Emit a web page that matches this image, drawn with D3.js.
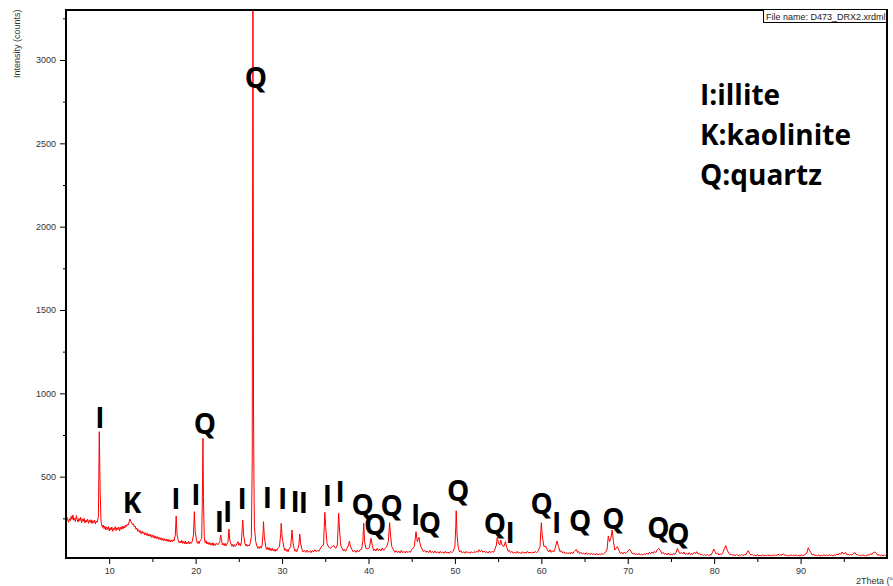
<!DOCTYPE html>
<html>
<head>
<meta charset="utf-8">
<script src="https://cdn.jsdelivr.net/npm/d3@7"></script>
<style>
  body { margin: 0; background: #fff; }
  svg { display: block; }
</style>
</head>
<body>
<div id="chart"></div>
<script>
// XRD scan: [2theta (deg), intensity (counts)]
const scan = [
  [5.0,235],[5.1,258],[5.2,240],[5.3,226],[5.4,248],[5.5,236],[5.6,262],[5.7,244],[5.8,270],[5.9,238],
  [6.0,252],[6.1,230],[6.2,266],[6.3,242],[6.4,228],[6.5,250],[6.6,236],[6.7,256],[6.8,224],[6.9,246],
  [7.0,232],[7.1,250],[7.2,222],[7.3,240],[7.4,228],[7.5,246],[7.6,220],[7.7,238],[7.8,226],[7.9,242],
  [8.0,218],[8.1,236],[8.2,224],[8.3,240],[8.4,216],[8.5,234],[8.6,226],[8.75,260],
  [8.85,770],[8.95,420],[9.05,230],[9.2,196],[9.3,210],[9.4,188],[9.5,204],[9.6,180],[9.7,198],[9.8,184],
  [9.9,200],[10.0,174],[10.1,194],[10.2,180],[10.3,198],[10.4,172],[10.5,190],[10.6,182],[10.7,200],[10.8,176],
  [10.9,194],[11.0,182],[11.1,198],[11.2,174],[11.3,196],[11.4,184],[11.5,202],[11.6,186],[11.7,204],[11.8,192],
  [11.9,210],[12.0,200],[12.1,216],[12.2,210],[12.3,228],[12.4,246],[12.5,232],[12.6,222],[12.7,212],[12.8,218],
  [12.9,198],[13.0,204],[13.1,184],[13.2,192],[13.3,172],[13.4,182],[13.5,166],[13.6,176],[13.7,158],[13.8,172],
  [13.9,160],[14.0,168],[14.1,150],[14.2,164],[14.3,148],[14.4,160],[14.5,144],[14.6,156],[14.7,142],[14.8,154],
  [14.9,136],[15.0,150],[15.1,134],[15.2,146],[15.3,130],[15.4,142],[15.5,128],[15.6,140],[15.7,124],[15.8,136],
  [15.9,122],[16.0,134],[16.1,118],[16.2,130],[16.3,116],[16.4,128],[16.5,114],[16.6,126],[16.7,112],[16.8,124],
  [16.9,110],[17.0,122],[17.1,108],[17.2,120],[17.3,110],[17.4,122],[17.5,114],[17.65,150],[17.75,264],[17.85,150],
  [18.0,116],[18.1,104],[18.2,114],[18.3,102],[18.4,118],[18.5,100],[18.6,112],[18.7,98],[18.8,114],[18.9,96],
  [19.0,108],[19.1,98],[19.2,112],[19.3,96],[19.4,106],[19.5,100],[19.6,112],[19.75,150],[19.85,290],
  [19.95,170],[20.1,120],[20.2,100],[20.3,112],[20.4,98],[20.5,114],[20.7,130],[20.8,450],[20.85,730],[20.9,380],[21.0,140],[21.1,104],[21.2,116],
  [21.3,96],[21.4,108],[21.5,94],[21.6,106],[21.7,90],[21.8,102],[21.9,88],[22.0,104],[22.1,86],[22.2,98],[22.3,88],[22.4,100],[22.6,92],[22.8,110],[22.9,150],[23.0,118],
  [23.1,90],[23.2,100],[23.3,86],[23.4,100],[23.5,84],[23.6,94],[23.75,110],[23.85,186],[23.95,120],[24.1,96],[24.2,82],[24.3,94],[24.4,80],[24.5,92],[24.6,82],[24.7,90],
  [24.9,110],[25.0,88],[25.1,100],[25.2,86],[25.3,110],[25.45,240],[25.55,150],[25.7,100],[25.8,84],[25.9,96],[26.0,82],[26.1,90],[26.2,84],[26.3,98],[26.45,140],
  [26.55,600],[26.6,2550],[26.63,3450],[26.66,2500],[26.7,900],[26.74,520],[26.8,200],[26.95,110],[27.1,84],[27.2,70],[27.3,80],[27.4,68],[27.5,82],[27.6,72],[27.7,90],
  [27.8,160],[27.85,230],[27.95,140],[28.1,84],[28.2,64],[28.3,76],[28.4,60],[28.5,74],[28.6,58],[28.7,70],[28.8,56],[28.9,70],[29.0,54],[29.1,64],[29.2,52],[29.3,66],
  [29.4,56],[29.5,68],[29.7,80],[29.85,160],[29.9,220],[30.0,140],[30.2,80],[30.3,58],[30.4,68],[30.5,52],[30.6,62],[30.7,50],[30.8,66],[31.0,80],
  [31.15,180],[31.25,110],[31.4,68],[31.5,52],[31.6,62],[31.7,50],[31.8,64],[31.95,90],[32.05,156],[32.15,100],[32.3,64],[32.45,48],[32.6,58],[32.75,46],
  [32.9,60],[33.05,46],[33.2,56],[33.35,44],[33.5,58],[33.65,48],[33.8,62],[33.95,50],[34.1,60],[34.25,52],[34.4,66],[34.6,84],[34.8,90],[34.95,286],[35.05,200],
  [35.2,100],[35.4,76],[35.6,70],[35.8,82],[36.0,86],[36.2,70],[36.4,90],[36.55,280],[36.65,180],[36.8,84],
  [37.0,66],[37.1,54],[37.2,64],[37.35,52],[37.5,70],[37.7,90],[37.8,114],[37.9,84],[38.1,62],[38.25,48],[38.4,58],[38.55,46],[38.7,60],[38.85,48],[39.0,60],
  [39.2,64],[39.35,110],[39.45,220],[39.55,110],[39.7,70],[39.9,66],[40.1,74],[40.3,130],[40.45,84],[40.6,56],[40.7,66],
  [40.85,54],[41.0,70],[41.15,56],[41.3,66],[41.45,54],[41.6,72],[41.75,58],[41.9,68],[42.1,80],[42.3,110],[42.45,224],[42.55,150],[42.7,80],[42.9,60],
  [43.05,46],[43.2,56],[43.35,44],[43.5,54],[43.65,42],[43.8,58],[43.95,44],[44.1,52],[44.25,42],[44.4,54],[44.55,44],[44.7,52],[44.85,46],[45.0,62],[45.3,80],[45.5,170],[45.65,110],
  [45.85,136],[46.0,90],[46.2,66],[46.35,50],[46.5,58],[46.65,46],[46.8,54],[46.95,44],[47.1,58],[47.25,44],[47.4,52],[47.55,42],[47.7,54],[47.85,42],[48.0,50],[48.15,40],[48.3,52],
  [48.45,42],[48.6,48],[48.75,40],[48.9,52],[49.05,42],[49.2,48],[49.35,40],[49.5,52],[49.65,44],[49.8,52],[50.0,80],[50.1,200],[50.15,296],[50.25,150],[50.4,70],
  [50.55,48],[50.7,56],[50.85,42],[51.0,50],[51.15,40],[51.3,52],[51.45,42],[51.6,48],[51.75,40],[51.9,50],[52.05,42],[52.2,50],[52.35,44],[52.5,54],[52.65,46],[52.8,62],[52.95,50],[53.1,58],[53.25,46],[53.4,54],
  [53.55,44],[53.7,50],[53.85,42],[54.0,54],[54.15,44],[54.3,52],[54.45,46],[54.6,60],[54.8,90],[54.9,136],[55.05,100],[55.2,90],[55.3,120],[55.45,90],
  [55.65,80],[55.85,110],[56.0,76],[56.15,52],[56.3,58],[56.45,44],[56.6,52],[56.75,40],[56.9,48],[57.05,40],[57.2,52],[57.35,40],[57.5,46],[57.65,38],[57.8,50],[57.95,40],[58.1,48],
  [58.25,40],[58.4,52],[58.55,42],[58.7,48],[58.85,40],[59.0,48],[59.15,42],[59.3,52],[59.45,44],[59.6,52],[59.85,80],[60.0,224],[60.1,150],[60.3,80],[60.5,84],
  [60.7,60],[60.85,48],[61.0,62],[61.15,46],[61.3,56],[61.45,48],[61.6,70],[61.8,114],[62.0,80],[62.15,50],[62.3,56],[62.45,42],[62.6,50],[62.75,38],[62.9,46],[63.05,36],[63.2,44],
  [63.35,36],[63.5,48],[63.65,38],[63.8,50],[64.05,64],[64.2,44],[64.3,52],[64.45,38],[64.6,46],[64.75,36],[64.9,42],[65.05,34],[65.2,44],[65.35,34],[65.5,40],[65.65,32],[65.8,42],[65.95,32],[66.1,38],
  [66.25,30],[66.4,40],[66.55,30],[66.7,36],[66.85,30],[67.0,40],[67.15,32],[67.3,40],[67.6,60],[67.75,144],[67.9,110],[68.05,130],[68.2,180],[68.35,110],
  [68.5,60],[68.8,80],[69.0,56],[69.15,40],[69.3,46],[69.45,36],[69.6,48],[69.75,38],[69.9,46],[70.2,64],[70.4,50],[70.55,36],[70.7,42],[70.85,32],[71.0,38],
  [71.15,30],[71.3,40],[71.45,30],[71.6,36],[71.75,30],[71.9,38],[72.05,32],[72.2,42],[72.35,34],[72.5,46],[72.65,38],[72.8,48],[72.95,40],[73.1,52],[73.25,44],[73.4,60],[73.6,70],[73.8,54],
  [73.95,38],[74.1,46],[74.25,34],[74.4,40],[74.55,30],[74.7,42],[74.85,30],[75.0,36],[75.15,30],[75.3,40],[75.45,34],[75.6,46],[75.75,70],[75.9,50],[76.05,38],[76.2,46],[76.35,36],[76.5,48],
  [76.65,34],[76.8,40],[76.95,32],[77.1,44],[77.25,32],[77.4,38],[77.55,34],[77.7,46],[77.85,38],[78.0,50],[78.15,36],[78.3,40],[78.45,30],[78.6,34],[78.75,26],[78.9,32],[79.05,26],[79.2,34],[79.35,26],[79.5,32],
  [79.65,30],[79.8,44],[79.95,66],[80.1,50],[80.25,36],[80.4,42],[80.55,30],[80.7,36],[80.85,32],[81.0,44],[81.2,70],[81.35,86],[81.5,60],[81.7,40],
  [81.85,30],[82.0,36],[82.15,28],[82.3,32],[82.45,26],[82.6,34],[82.75,26],[82.9,30],[83.05,26],[83.2,34],[83.35,26],[83.5,32],[83.65,30],[83.8,44],[83.95,56],[84.1,40],[84.25,30],[84.4,34],
  [84.55,26],[84.7,30],[84.85,24],[85.0,32],[85.15,24],[85.3,28],[85.45,24],[85.6,32],[85.75,24],[85.9,30],[86.05,24],[86.2,32],[86.35,26],[86.5,28],[86.65,24],[86.8,32],[86.95,24],[87.1,30],[87.25,26],[87.4,36],
  [87.55,28],[87.7,32],[87.85,28],[88.0,38],[88.15,28],[88.3,32],[88.45,24],[88.6,28],[88.75,24],[88.9,32],[89.05,24],[89.2,30],[89.35,24],[89.5,32],[89.65,24],[89.8,28],[89.95,24],[90.1,32],[90.25,24],[90.4,30],
  [90.7,40],[90.9,74],[91.0,60],[91.2,44],[91.35,30],[91.5,36],[91.65,26],[91.8,30],[91.95,24],[92.1,32],[92.25,24],[92.4,28],[92.55,24],[92.7,32],[92.85,24],[93.0,30],
  [93.15,24],[93.3,34],[93.45,26],[93.6,30],[93.75,24],[93.9,32],[94.05,28],[94.2,36],[94.35,30],[94.5,42],[94.65,34],[94.8,48],[95.0,36],[95.2,46],[95.35,32],[95.5,36],[95.65,28],[95.8,32],[95.95,30],
  [96.1,40],[96.3,44],[96.45,32],[96.6,34],[96.75,26],[96.9,30],[97.05,24],[97.2,32],[97.35,24],[97.5,28],[97.65,24],[97.8,34],[97.95,28],[98.1,38],[98.25,32],[98.4,44],[98.6,48],
  [98.8,38],[98.95,28],[99.1,32],[99.25,24],[99.4,30],[99.55,24],[99.7,32],[99.85,24],[100.0,28]
];

// Phase labels: [text, 2theta of label centre, counts at label baseline]
const peakLabels = [
  ['I', 8.93, 792], ['K', 12.64, 282], ['I', 17.73, 306], ['I', 20.04, 330], ['Q', 21.08, 756],
  ['I', 22.74, 168], ['I', 23.71, 228], ['I', 25.37, 306], ['Q', 26.96, 2832], ['I', 28.29, 312],
  ['I', 30.07, 306], ['I', 31.5, 288], ['I', 32.46, 282], ['I', 35.24, 324], ['I', 36.71, 348],
  ['Q', 39.33, 270], ['Q', 40.76, 150], ['Q', 42.69, 264], ['I', 45.47, 210], ['Q', 47.12, 162],
  ['Q', 50.39, 354], ['Q', 54.64, 156], ['I', 56.38, 102], ['Q', 60.04, 276], ['I', 61.78, 162],
  ['Q', 64.48, 174], ['Q', 68.33, 186], ['Q', 73.54, 132], ['Q', 75.85, 96]
];

const legendLines = ['I:illite', 'K:kaolinite', 'Q:quartz'];

const xMajorTicks = [10, 20, 30, 40, 50, 60, 70, 80, 90];
const xMinorTicks = [15, 25, 35, 45, 55, 65, 75, 85, 95];
const yMajorTicks = [500, 1000, 1500, 2000, 2500, 3000];
const yMinorTicks = [250, 750, 1250, 1750, 2250, 2750, 3250];

const fileName = 'File name: D473_DRX2.xrdml';
const xTitle = '2Theta (°)';
const yTitle = 'Intensity (counts)';

const W = 893, H = 586;
const plot = { left: 66, right: 887, top: 10, bottom: 558 };
const axisFont = '"Liberation Sans", Arial, sans-serif';
const labelFont = '"Open Sans", sans-serif';

const svg = d3.select('#chart').append('svg')
  .attr('width', W)
  .attr('height', H);

const x = d3.scaleLinear().domain([5, 100]).range([plot.left, plot.right]);
const y = d3.scaleLinear().domain([12, 3300]).range([plot.bottom, plot.top]);

svg.append('defs').append('clipPath').attr('id', 'clip')
  .append('rect')
  .attr('x', plot.left).attr('y', plot.top)
  .attr('width', plot.right - plot.left).attr('height', plot.bottom - plot.top);

// Scan line
const line = d3.line().x(d => x(d[0])).y(d => y(d[1]));
svg.append('path')
  .datum(scan)
  .attr('clip-path', 'url(#clip)')
  .attr('fill', 'none')
  .attr('stroke', '#ff0000')
  .attr('stroke-width', 1)
  .attr('d', line);

// Axes (ticks only, frame drawn separately)
const styleAxis = (g, labels) => {
  g.select('.domain').remove();
  g.selectAll('.tick line').attr('stroke', '#000').attr('stroke-width', 1);
  g.selectAll('.tick text')
    .attr('fill', '#333')
    .style('font-family', axisFont)
    .style('font-size', '9px');
  if (!labels) g.selectAll('.tick text').remove();
};

svg.append('g')
  .attr('transform', `translate(0,${plot.bottom})`)
  .call(d3.axisBottom(x).tickValues(xMajorTicks).tickSize(6).tickPadding(4).tickFormat(d3.format('d')))
  .call(g => styleAxis(g, true));

svg.append('g')
  .attr('transform', `translate(0,${plot.bottom})`)
  .call(d3.axisBottom(x).tickValues(xMinorTicks).tickSize(4))
  .call(g => styleAxis(g, false));

svg.append('g')
  .attr('transform', `translate(${plot.left},0)`)
  .call(d3.axisLeft(y).tickValues(yMajorTicks).tickSize(6).tickPadding(4).tickFormat(d3.format('d')))
  .call(g => styleAxis(g, true));

svg.append('g')
  .attr('transform', `translate(${plot.left},0)`)
  .call(d3.axisLeft(y).tickValues(yMinorTicks).tickSize(3))
  .call(g => styleAxis(g, false));

// Frame
svg.append('rect')
  .attr('x', plot.left).attr('y', plot.top)
  .attr('width', plot.right - plot.left).attr('height', plot.bottom - plot.top)
  .attr('fill', 'none')
  .attr('stroke', '#000')
  .attr('stroke-width', 2);

// File name box
svg.append('rect')
  .attr('x', 763.5).attr('y', 9.5)
  .attr('width', 123).attr('height', 13)
  .attr('fill', '#fff')
  .attr('stroke', '#000')
  .attr('stroke-width', 1);

svg.append('text')
  .attr('x', 766).attr('y', 19.5)
  .attr('fill', '#222')
  .style('font-family', axisFont)
  .style('font-size', '9px')
  .text(fileName);

// Axis titles
svg.append('text')
  .attr('transform', 'translate(20,9.5) rotate(-90)')
  .attr('text-anchor', 'end')
  .attr('fill', '#333')
  .style('font-family', axisFont)
  .style('font-size', '9px')
  .text(yTitle);

svg.append('text')
  .attr('x', 856).attr('y', 584)
  .attr('fill', '#333')
  .style('font-family', axisFont)
  .style('font-size', '9px')
  .text(xTitle);

// Peak labels
svg.append('g')
  .selectAll('text')
  .data(peakLabels)
  .enter()
  .append('text')
  .attr('x', d => x(d[1]))
  .attr('y', d => y(d[2]))
  .attr('text-anchor', 'middle')
  .attr('fill', '#000')
  .style('font-family', labelFont)
  .style('font-weight', 700)
  .style('font-size', '28px')
  .text(d => d[0]);

// Legend
svg.append('g')
  .selectAll('text')
  .data(legendLines)
  .enter()
  .append('text')
  .attr('x', 700)
  .attr('y', (d, i) => 105 + i * 40)
  .attr('fill', '#000')
  .style('font-family', labelFont)
  .style('font-weight', 700)
  .style('font-size', '28px')
  .text(d => d);
</script>
</body>
</html>
